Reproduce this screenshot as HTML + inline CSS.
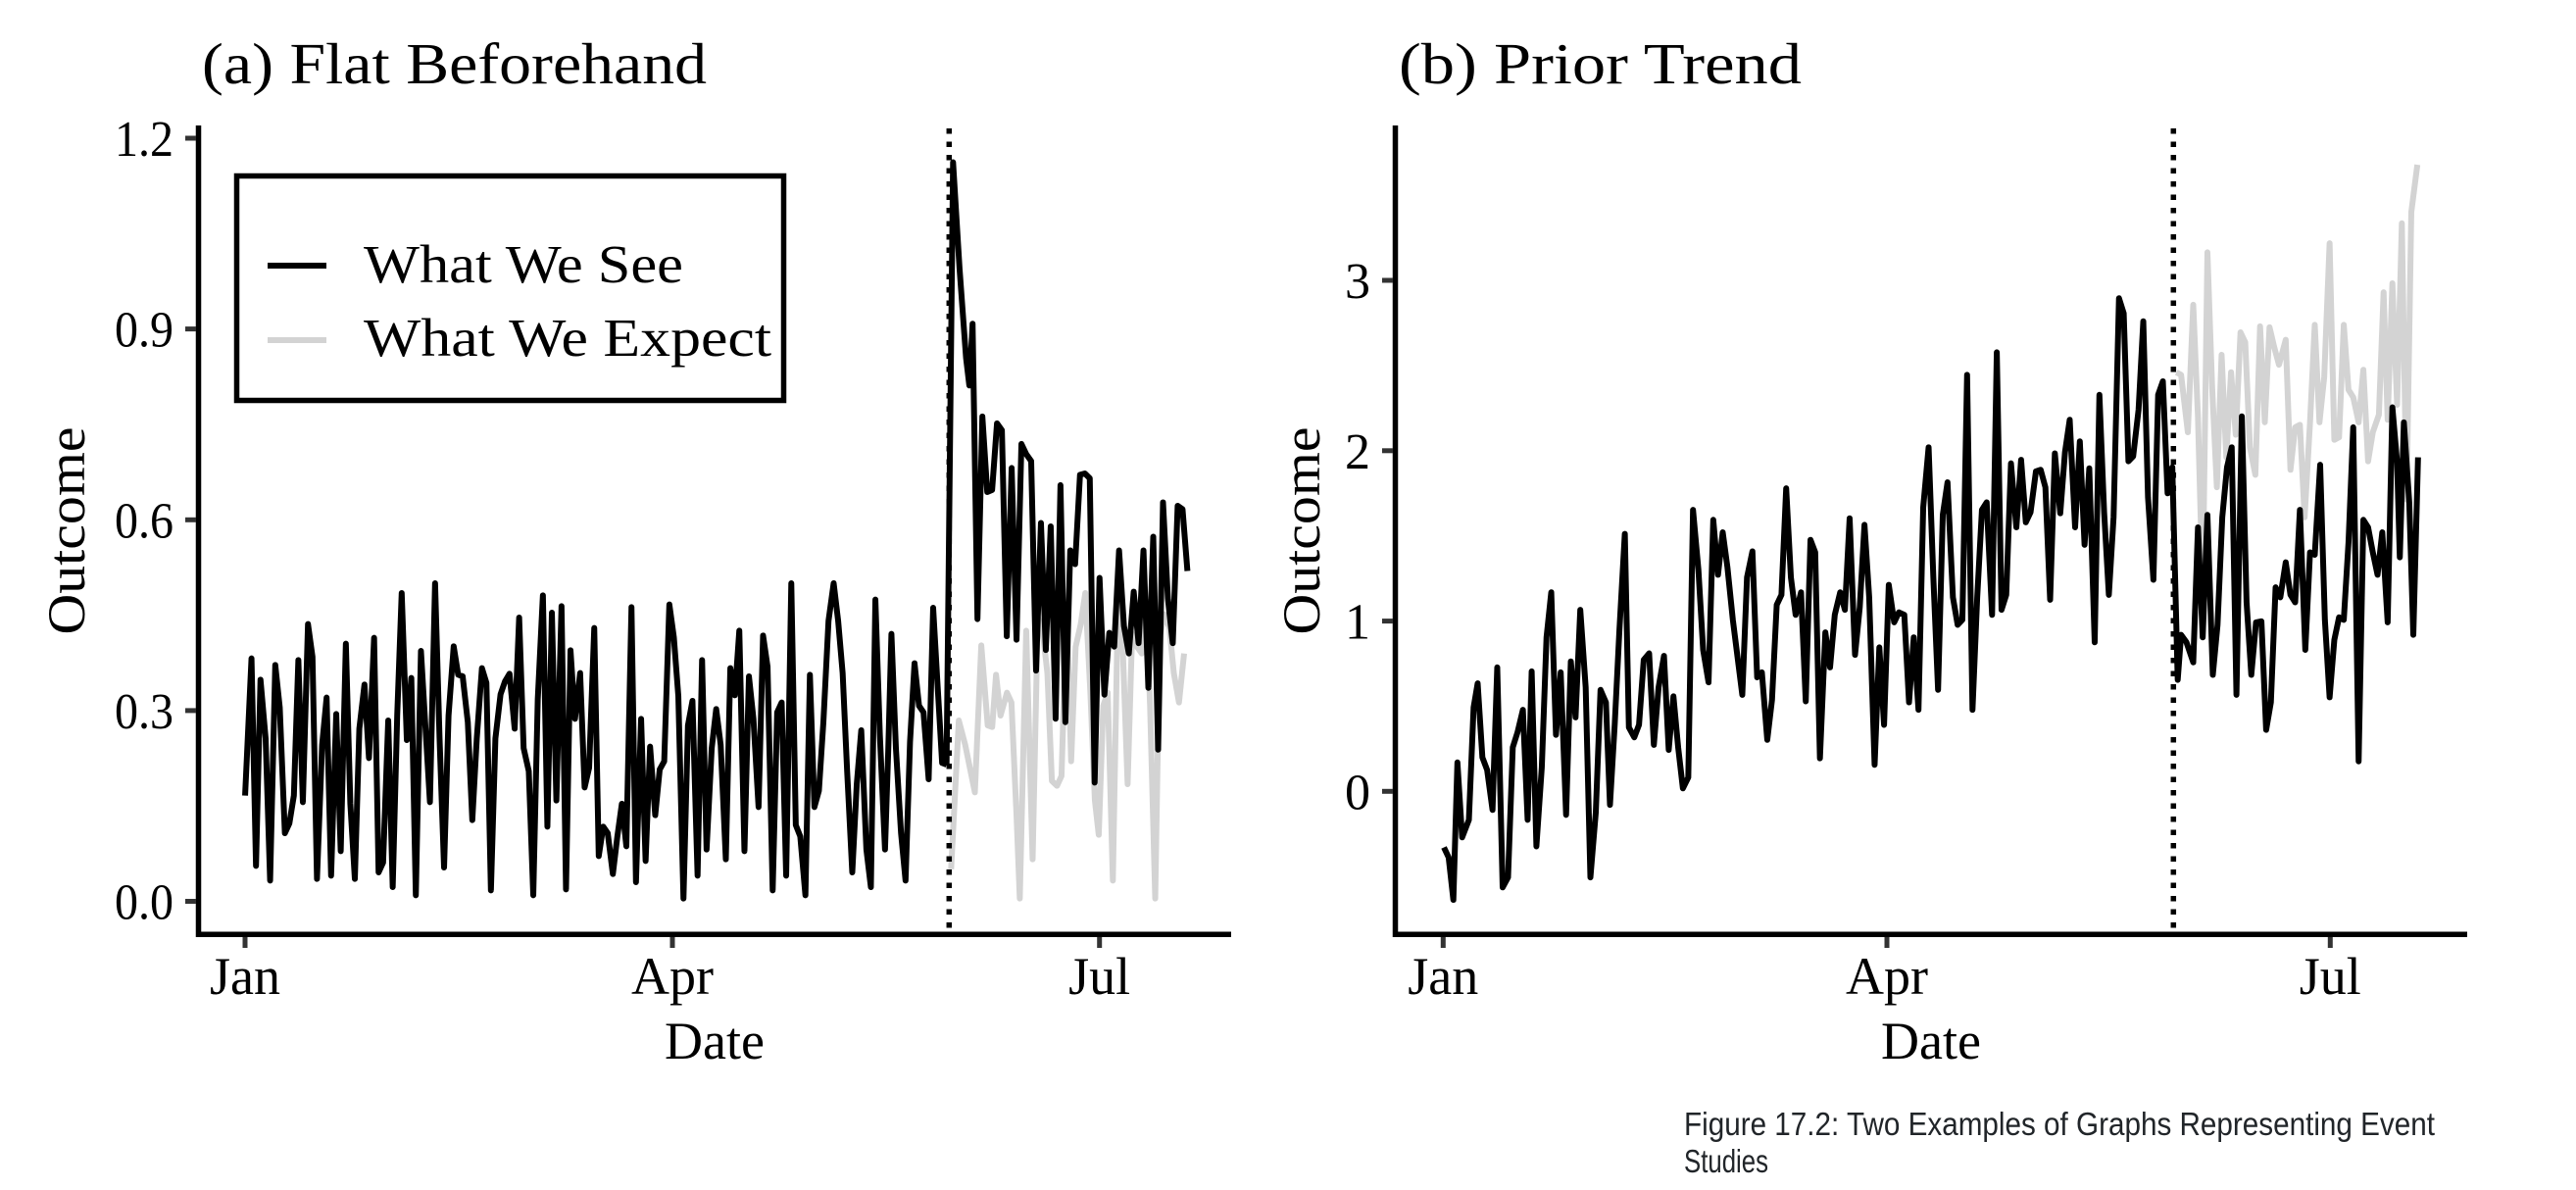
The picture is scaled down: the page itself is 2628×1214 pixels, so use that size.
<!DOCTYPE html>
<html>
<head>
<meta charset="utf-8">
<style>
html,body{margin:0;padding:0;background:#fff;}
svg{display:block;}
.serif{font-family:"Liberation Serif",serif;fill:#000;}
.cap{font-family:"Liberation Sans",sans-serif;fill:#212529;}
</style>
</head>
<body>
<svg width="2628" height="1214" viewBox="0 0 2628 1214" xmlns="http://www.w3.org/2000/svg">
<rect width="2628" height="1214" fill="#fff"/>

<!-- ============ PANEL A ============ -->
<text class="serif" x="206" y="85" font-size="59" textLength="515" lengthAdjust="spacingAndGlyphs">(a) Flat Beforehand</text>

<!-- gray expected -->
<g transform="translate(231.7,500) scale(0.6548,0.33333)">
<polyline fill="none" stroke="#d3d3d3" stroke-width="6" vector-effect="non-scaling-stroke" stroke-linejoin="round" stroke-linecap="butt"
points="1128,1160 1140,705 1150,780 1165,925 1175,475 1185,720 1192,725 1198,565 1205,690 1215,620 1222,650 1230,1000 1235,1250 1245,430 1255,1130 1263,390 1270,420 1278,560 1285,890 1293,905 1300,875 1308,350 1315,830 1322,480 1330,410 1337,315 1345,620 1352,950 1358,1055 1365,660 1372,620 1380,1195 1388,330 1395,460 1403,900 1410,440 1418,480 1425,500 1432,340 1438,660 1446,1250 1453,450 1460,380 1468,420 1475,560 1483,650 1491,500"/>
</g>

<!-- black pre-event -->
<g transform="translate(231.7,500) scale(0.6548,0.33333)">
<polyline fill="none" stroke="#000" stroke-width="6" vector-effect="non-scaling-stroke" stroke-linejoin="round" stroke-linecap="butt"
points="28,935 38,515 45,1150 52,580 60,760 67,1195 75,535 82,665 90,1050 97,1020 104,935 111,520 118,955 126,410 133,510 140,1190 148,780 155,635 162,1180 170,685 177,1105 185,470 192,960 199,1190 206,730 214,595 221,820 229,452 236,1170 243,1140 251,705 258,1215 265,690 272,315 280,765 287,575 294,1240 302,492 309,725 316,955 324,285 331,760 338,1155 345,690 353,478 360,565 367,570 375,710 382,1010 389,760 397,545 404,590 411,1225 418,760 426,625 433,585 440,562 448,730 455,390 462,790 470,860 477,1240 484,640 492,322 499,1030 506,375 513,950 521,355 528,1222 535,490 542,700 550,560 557,910 564,850 572,422 579,1120 586,1030 593,1050 601,1175 608,1060 615,960 622,1090 630,358 637,1200 645,700 652,1135 659,785 667,995 674,855 681,830 689,350 696,450 703,630 711,1250 718,720 725,645 733,1180 740,520 747,1100 755,790 762,670 769,780 777,1130 784,545 791,628 798,430 806,1105 813,570 820,700 828,970 835,445 842,540 850,1225 857,680 864,650 871,1180 879,285 886,1025 893,1060 901,1240 908,565 915,970 922,920 929,710 937,400 945,285 952,400 959,560 966,860 974,1170 981,900 988,735 996,1100 1003,1215 1010,335 1017,750 1025,1100 1030,800 1035,440 1042,790 1050,1050 1057,1195 1064,770 1071,530 1078,660 1085,680 1093,885 1100,360 1107,600 1114,835 1121,840"/>
</g>

<!-- black post-event -->
<g transform="translate(-0.7,0.8) scale(0.8302,0.7009)">
<polyline fill="none" stroke="#000" stroke-width="6" vector-effect="non-scaling-stroke" stroke-linejoin="round" stroke-linecap="butt"
points="1164,1112 1172,235 1180,390 1188,520 1192,560 1196,470 1202,900 1208,605 1214,715 1220,712 1226,615 1232,625 1238,925 1244,680 1250,930 1256,645 1262,660 1268,670 1274,975 1280,760 1286,945 1292,765 1298,1045 1304,705 1310,1050 1316,800 1322,820 1328,690 1334,688 1340,695 1346,1138 1352,840 1358,1010 1364,920 1370,940 1376,800 1382,910 1388,950 1394,860 1400,935 1406,800 1412,1000 1418,780 1424,1090 1430,730 1436,870 1442,935 1448,735 1454,740 1460,830"/>
</g>

<!-- dotted event line -->
<line x1="968.3" y1="131" x2="968.3" y2="951" stroke="#000" stroke-width="5.5" stroke-dasharray="5.5 8"/>

<!-- axes -->
<path d="M202.5,128 V953.3 H1256" fill="none" stroke="#000" stroke-width="5.5" stroke-linejoin="miter"/>
<g stroke="#333" stroke-width="5">
<line x1="189" y1="141" x2="200" y2="141"/>
<line x1="189" y1="335.6" x2="200" y2="335.6"/>
<line x1="189" y1="530.3" x2="200" y2="530.3"/>
<line x1="189" y1="724.9" x2="200" y2="724.9"/>
<line x1="189" y1="919.5" x2="200" y2="919.5"/>
<line x1="250" y1="956" x2="250" y2="967"/>
<line x1="686" y1="956" x2="686" y2="967"/>
<line x1="1121.7" y1="956" x2="1121.7" y2="967"/>
</g>
<g class="serif" font-size="52" text-anchor="end">
<text x="177" y="159" textLength="60" lengthAdjust="spacingAndGlyphs">1.2</text>
<text x="177" y="353.6" textLength="60" lengthAdjust="spacingAndGlyphs">0.9</text>
<text x="177" y="548.3" textLength="60" lengthAdjust="spacingAndGlyphs">0.6</text>
<text x="177" y="742.9" textLength="60" lengthAdjust="spacingAndGlyphs">0.3</text>
<text x="177" y="937.5" textLength="60" lengthAdjust="spacingAndGlyphs">0.0</text>
</g>
<g class="serif" font-size="54" text-anchor="middle">
<text x="250" y="1014">Jan</text>
<text x="686" y="1014">Apr</text>
<text x="1121.7" y="1014">Jul</text>
<text x="729" y="1080">Date</text>
</g>
<text class="serif" font-size="54" text-anchor="middle" transform="translate(86,541.5) rotate(-90)" textLength="212" lengthAdjust="spacingAndGlyphs">Outcome</text>

<!-- legend -->
<rect x="241.5" y="179.5" width="558" height="229" fill="#fff" stroke="#000" stroke-width="5.5"/>
<line x1="273" y1="271" x2="333" y2="271" stroke="#000" stroke-width="6"/>
<line x1="273" y1="347" x2="333" y2="347" stroke="#d3d3d3" stroke-width="6"/>
<text class="serif" x="371" y="288" font-size="55" textLength="326" lengthAdjust="spacingAndGlyphs">What We See</text>
<text class="serif" x="371" y="363" font-size="55" textLength="416" lengthAdjust="spacingAndGlyphs">What We Expect</text>

<!-- ============ PANEL B ============ -->
<text class="serif" x="1427" y="85" font-size="59" textLength="411" lengthAdjust="spacingAndGlyphs">(b) Prior Trend</text>

<g transform="translate(1440,140) scale(0.6887,0.5102)">
<polyline fill="none" stroke="#d3d3d3" stroke-width="6" vector-effect="non-scaling-stroke" stroke-linejoin="round" stroke-linecap="butt"
points="1133,470 1140,475 1150,590 1158,335 1165,560 1172,910 1179,230 1186,500 1193,700 1200,435 1207,640 1214,470 1221,595 1228,390 1235,410 1242,620 1250,675 1257,378 1264,570 1271,380 1278,420 1285,455 1295,405 1302,665 1309,580 1316,575 1323,760 1331,570 1338,375 1345,570 1352,480 1360,212 1367,605 1374,600 1381,375 1388,505 1395,520 1403,570 1410,465 1417,648 1424,590 1433,555 1440,310 1446,565 1453,292 1460,535 1467,172 1474,725 1481,150 1490,55"/>
<polyline fill="none" stroke="#000" stroke-width="6" vector-effect="non-scaling-stroke" stroke-linejoin="round" stroke-linecap="butt"
points="48,1420 55,1440 62,1525 68,1250 75,1400 85,1365 92,1140 98,1092 105,1240 112,1265 120,1345 127,1060 135,1500 143,1480 150,1220 157,1190 165,1145 172,1365 178,1068 185,1418 193,1260 200,1000 207,910 214,1195 221,1070 229,1355 236,1048 243,1160 250,945 258,1100 265,1480 273,1350 280,1105 288,1130 294,1335 301,1175 308,985 316,793 322,1180 330,1200 337,1175 344,1045 352,1032 359,1215 366,1100 374,1037 381,1225 388,1118 395,1220 402,1302 410,1280 417,745 425,865 432,1025 440,1090 447,765 454,875 461,790 468,860 476,965 483,1040 490,1115 497,880 505,828 512,1080 519,1070 527,1205 534,1125 541,935 548,915 555,702 562,880 569,955 577,910 584,1128 591,805 598,830 605,1242 613,990 620,1060 627,955 635,910 642,945 649,762 657,1035 664,940 671,775 678,920 686,1255 693,1020 700,1175 707,895 715,970 722,950 730,955 737,1130 744,1000 751,1145 758,740 766,620 773,880 780,1105 787,755 794,690 802,920 809,975 816,965 823,475 831,1145 838,920 845,745 852,730 860,955 867,430 874,945 881,915 888,652 896,780 903,645 910,770 917,750 925,668 932,665 939,700 946,925 953,632 961,752 968,630 975,565 983,780 990,608 997,815 1004,662 1012,1010 1019,515 1026,750 1033,915 1040,760 1048,322 1055,352 1062,648 1069,638 1077,545 1084,368 1091,720 1099,885 1106,515 1113,488 1120,712 1127,660 1135,1085 1140,995 1148,1010 1158,1050 1165,780 1172,1000 1179,755 1187,1075 1194,975 1201,760 1208,660 1215,620 1222,1115 1230,558 1237,930 1244,1075 1251,970 1259,968 1266,1185 1273,1130 1280,900 1287,920 1295,850 1302,915 1309,930 1316,745 1324,1025 1331,830 1338,835 1346,655 1353,965 1360,1120 1367,1005 1374,960 1381,965 1388,810 1395,580 1403,1248 1410,765 1417,780 1424,830 1431,875 1438,790 1446,970 1453,540 1460,650 1464,840 1470,570 1478,730 1484,995 1491,640"/>
</g>

<line x1="2217.3" y1="131" x2="2217.3" y2="951" stroke="#000" stroke-width="5.5" stroke-dasharray="5.5 8"/>

<path d="M1423.5,128 V953.3 H2517" fill="none" stroke="#000" stroke-width="5.5" stroke-linejoin="miter"/>
<g stroke="#333" stroke-width="5">
<line x1="1410" y1="286" x2="1421" y2="286"/>
<line x1="1410" y1="459.8" x2="1421" y2="459.8"/>
<line x1="1410" y1="633.6" x2="1421" y2="633.6"/>
<line x1="1410" y1="807.3" x2="1421" y2="807.3"/>
<line x1="1472.3" y1="956" x2="1472.3" y2="967"/>
<line x1="1925" y1="956" x2="1925" y2="967"/>
<line x1="2377.3" y1="956" x2="2377.3" y2="967"/>
</g>
<g class="serif" font-size="52" text-anchor="end">
<text x="1398" y="304">3</text>
<text x="1398" y="477.8">2</text>
<text x="1398" y="651.6">1</text>
<text x="1398" y="825.3">0</text>
</g>
<g class="serif" font-size="54" text-anchor="middle">
<text x="1472.3" y="1014">Jan</text>
<text x="1925" y="1014">Apr</text>
<text x="2377.3" y="1014">Jul</text>
<text x="1970" y="1080">Date</text>
</g>
<text class="serif" font-size="54" text-anchor="middle" transform="translate(1346,541.5) rotate(-90)" textLength="212" lengthAdjust="spacingAndGlyphs">Outcome</text>

<!-- caption -->
<text class="cap" x="1718" y="1158" font-size="33" textLength="766" lengthAdjust="spacingAndGlyphs">Figure 17.2: Two Examples of Graphs Representing Event</text>
<text class="cap" x="1718" y="1196" font-size="33" textLength="86" lengthAdjust="spacingAndGlyphs">Studies</text>
</svg>
</body>
</html>
